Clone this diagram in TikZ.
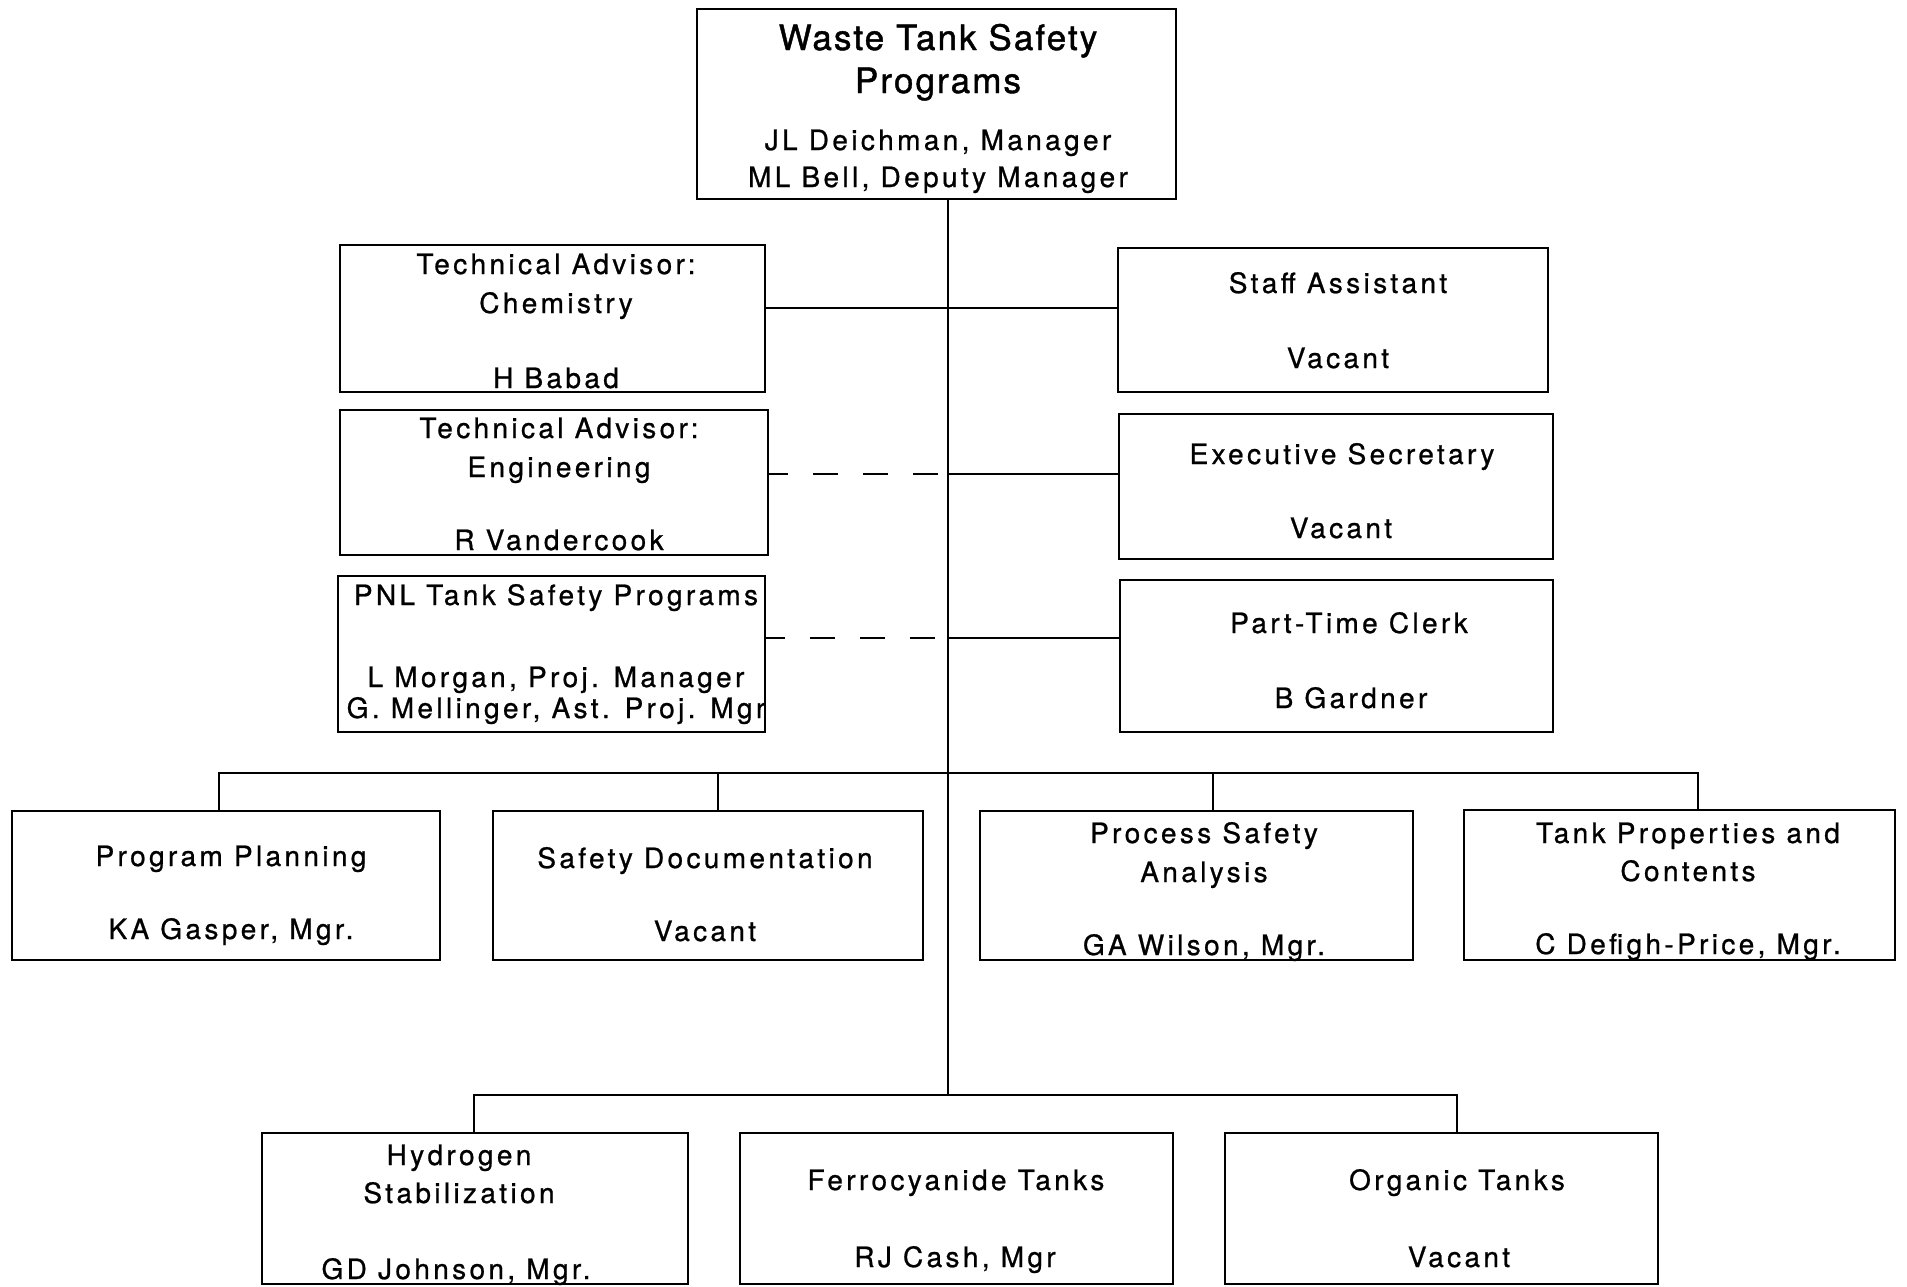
\documentclass[tikz,border=0pt]{standalone}
\usepackage{fontspec}
\setmainfont{TeX Gyre Heros}[LetterSpace=12, FakeBold=0.8]
\newfontfamily\headfont{TeX Gyre Heros}[LetterSpace=6, FakeBold=1.2]
\usetikzlibrary{fit}

\tikzset{
  unitbox/.style={draw, line width=2.4pt, inner sep=0pt, rectangle},
  lbl/.style={anchor=base, inner sep=0pt, font=\fontsize{28}{34}\selectfont},
  headlbl/.style={anchor=base, inner sep=0pt, font=\headfont\fontsize{35}{42}\selectfont},
  link/.style={line width=2.4pt},
  dashlink/.style={line width=2.4pt, dash pattern=on 25pt off 25pt, dash phase=6pt}
}

\begin{document}
\begin{tikzpicture}[x=1pt, y=-1pt]
  \useasboundingbox[fill=white] (0,0) rectangle (1907,1286);

  % ---- boxes ----
  \node[unitbox, fit={(697,9) (1176,199)}] (top) {};
  \node[unitbox, fit={(340,245) (765,392)}] (chem) {};
  \node[unitbox, fit={(340,410) (768,555)}] (eng) {};
  \node[unitbox, fit={(338,576) (765,732)}] (pnl) {};
  \node[unitbox, fit={(1118,248) (1548,392)}] (staff) {};
  \node[unitbox, fit={(1119,414) (1553,559)}] (exec) {};
  \node[unitbox, fit={(1120,580) (1553,732)}] (clerk) {};
  \node[unitbox, fit={(12,811) (440,960)}] (plan) {};
  \node[unitbox, fit={(493,811) (923,960)}] (sdoc) {};
  \node[unitbox, fit={(980,811) (1413,960)}] (psa) {};
  \node[unitbox, fit={(1464,810) (1895,960)}] (tank) {};
  \node[unitbox, fit={(262,1133) (688,1284)}] (hyd) {};
  \node[unitbox, fit={(740,1133) (1173,1284)}] (ferro) {};
  \node[unitbox, fit={(1225,1133) (1658,1284)}] (org) {};

  % ---- texts ----
  \node[headlbl] (topA) at (938,50) {Waste Tank Safety};
  \node[headlbl] (topB) at (938,93) {Programs};
  \node[lbl] (topC) at (938,150) {JL Deichman, Manager};
  \node[lbl] (topD) at (938,187) {ML Bell, Deputy Manager};

  \node[lbl] (chemA) at (556,274) {Technical Advisor:};
  \node[lbl] (chemB) at (556,313) {Chemistry};
  \node[lbl] (chemC) at (556,388) {H Babad};

  \node[lbl] (engA) at (559,438) {Technical Advisor:};
  \node[lbl] (engB) at (559,477) {Engineering};
  \node[lbl] (engC) at (559,550) {R Vandercook};

  \node[lbl] (pnlA) at (556,605) {PNL Tank Safety Programs};
  \node[lbl] (pnlB) at (556,687) {L Morgan, Proj. Manager};
  \node[lbl] (pnlC) at (556,718) {G. Mellinger, Ast. Proj. Mgr};

  \node[lbl] (staffA) at (1338,293) {Staff Assistant};
  \node[lbl] (staffB) at (1338,368) {Vacant};
  \node[lbl] (execA) at (1342,464) {Executive Secretary};
  \node[lbl] (execB) at (1341,538) {Vacant};
  \node[lbl] (clerkA) at (1349,633) {Part-Time Clerk};
  \node[lbl] (clerkB) at (1351,708) {B Gardner};

  \node[lbl] (planA) at (231,866) {Program Planning};
  \node[lbl] (planB) at (231,939) {KA Gasper, Mgr.};
  \node[lbl] (sdocA) at (705,868) {Safety Documentation};
  \node[lbl] (sdocB) at (705,941) {Vacant};
  \node[lbl] (psaA) at (1204,843) {Process Safety};
  \node[lbl] (psaB) at (1204,882) {Analysis};
  \node[lbl] (psaC) at (1204,955) {GA Wilson, Mgr.};
  \node[lbl] (tankA) at (1688,843) {Tank Properties and};
  \node[lbl] (tankB) at (1688,881) {Contents};
  \node[lbl] (tankC) at (1688,954) {C Defigh-Price, Mgr.};

  \node[lbl] (hydA) at (459,1165) {Hydrogen};
  \node[lbl] (hydB) at (459,1203) {Stabilization};
  \node[lbl] (hydC) at (456,1279) {GD Johnson, Mgr.};
  \node[lbl] (ferroA) at (956,1190) {Ferrocyanide Tanks};
  \node[lbl] (ferroB) at (955,1267) {RJ Cash, Mgr};
  \node[lbl] (orgA) at (1457,1190) {Organic Tanks};
  \node[lbl] (orgB) at (1459,1267) {Vacant};

  % ---- connectors ----
  \coordinate (busB) at (948,1095);
  \coordinate (r1) at (948,308);
  \coordinate (r2) at (948,474);
  \coordinate (r3) at (948,638);
  \coordinate (barL) at (219,773);
  \coordinate (barM) at (718,773);
  \coordinate (barN) at (1213,773);
  \coordinate (barR) at (1698,773);
  \coordinate (bbL) at (474,1095);
  \coordinate (bbR) at (1457,1095);

  % main spine
  \draw[link] (top.south -| busB) -- (busB);

  % staff rows
  \draw[link] (chem.east |- r1) -- (staff.west |- r1);
  \draw[dashlink] (eng.east |- r2) -- (r2);
  \draw[link] (r2) -- (exec.west |- r2);
  \draw[dashlink] (pnl.east |- r3) -- (r3);
  \draw[link] (r3) -- (clerk.west |- r3);

  % middle tier
  \draw[link] (barL |- plan.north) -- (barL) -- (barR) -- (barR |- tank.north);
  \draw[link] (barM) -- (barM |- sdoc.north);
  \draw[link] (barN) -- (barN |- psa.north);

  % lower tier
  \draw[link] (bbL |- hyd.north) -- (bbL) -- (bbR) -- (bbR |- org.north);
\end{tikzpicture}
\end{document}
